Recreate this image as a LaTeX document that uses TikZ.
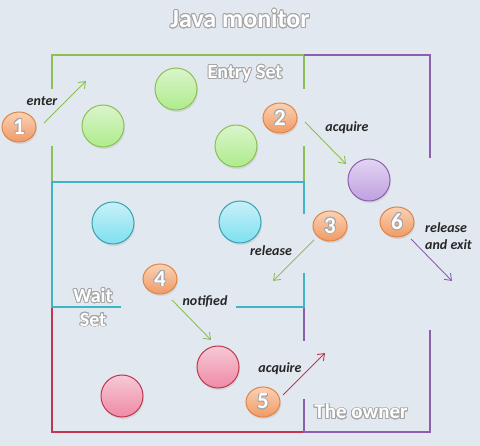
\documentclass[tikz,border=0pt]{standalone}
\usepackage{fontspec}
\setmainfont{Carlito}
\usepackage{xcolor}
\usepackage{contour}
\contourlength{0.8pt}
\contournumber{24}
\usetikzlibrary{shapes.geometric,arrows.meta,shadows}

\definecolor{bgcol}{HTML}{E2E8F0}
\definecolor{entrycol}{HTML}{8DC054}
\definecolor{waitcol}{HTML}{3DB5C4}
\definecolor{ownercol}{HTML}{8C5FAE}
\definecolor{redcol}{HTML}{C0374F}
\definecolor{greentop}{HTML}{DAF4CC}
\definecolor{greenbot}{HTML}{AEEC8C}
\definecolor{cyantop}{HTML}{C8F0F8}
\definecolor{cyanbot}{HTML}{7EE0F0}
\definecolor{redtop}{HTML}{F4CAD6}
\definecolor{redbot}{HTML}{F08AA6}
\definecolor{purptop}{HTML}{E2D4F2}
\definecolor{purpbot}{HTML}{BFA0E0}
\definecolor{badgetop}{HTML}{FAD2B6}
\definecolor{badgebot}{HTML}{F09A66}
\definecolor{badgecol}{HTML}{E08444}

\newcommand{\halotext}[1]{\contour{black!35}{\textcolor{white}{#1}}}

\tikzset{
  ball/.style={circle, minimum size=42pt, inner sep=0pt, line width=1pt,
    drop shadow={opacity=0.18, shadow xshift=1pt, shadow yshift=-2pt}},
  greenball/.style={ball, draw=entrycol, top color=greentop, bottom color=greenbot},
  cyanball/.style={ball, draw=waitcol!90!black, top color=cyantop, bottom color=cyanbot},
  redball/.style={ball, draw=redcol, top color=redtop, bottom color=redbot},
  purpleball/.style={ball, draw=ownercol, top color=purptop, bottom color=purpbot},
  badge/.style={ellipse, minimum width=34pt, minimum height=30pt, inner sep=0pt, draw=badgecol, line width=1pt,
    top color=badgetop, bottom color=badgebot,
    drop shadow={opacity=0.18, shadow xshift=1pt, shadow yshift=-2pt},
    font=\bfseries\fontsize{23}{23}\selectfont},
  wall/.style={line width=2.2pt},
  arr/.style={-{Straight Barb[length=6pt,width=9pt]}, line width=0.9pt},
  lbl/.style={font=\bfseries\itshape\fontsize{14}{17}\selectfont, text=black!85, inner sep=0pt},
  title/.style={font=\bfseries\fontsize{20}{22}\selectfont, inner sep=0pt}
}

\begin{document}
\begin{tikzpicture}[x=1pt,y=-1pt]
  \fill [bgcol] (0,0) rectangle (480,446);
  \useasboundingbox (0,0) rectangle (480,446);

  % walls of the monitor
  \draw [wall, entrycol] (52,89) -- (52,55) -- (304,55) -- (304,89);
  \draw [wall, entrycol] (52,146) -- (52,181);
  \draw [wall, entrycol] (304,146) -- (304,181);
  \draw [wall, waitcol] (304,214) -- (304,182) -- (52,182) -- (52,307) -- (121,307);
  \draw [wall, waitcol] (236,307) -- (304,307) -- (304,273);
  \draw [wall, redcol] (52,308) -- (52,432) -- (304,432);
  \draw [wall, ownercol] (304,55) -- (430,55) -- (430,158);
  \draw [wall, ownercol] (304,308) -- (304,341);
  \draw [wall, ownercol] (304,399) -- (304,432) -- (430,432) -- (430,330);

  % titles
  \node [font=\bfseries\fontsize{26}{28}\selectfont, inner sep=0pt] (head) at (240,19) {\halotext{Java monitor}};
  \node [title] (entry) at (245,74) {\halotext{Entry Set}};
  \node [title] (wait) at (93,296) {\halotext{Wait}};
  \node [title] (set) at (93,320) {\halotext{Set}};
  \node [title, font=\bfseries\fontsize{21}{23}\selectfont] (owner) at (361,412) {\halotext{The owner}};

  % threads
  \node [greenball] (g1) at (176,89) {};
  \node [greenball] (g2) at (103,126) {};
  \node [greenball] (g3) at (236,146) {};
  \node [purpleball] (p1) at (369,180) {};
  \node [cyanball] (c1) at (113,223) {};
  \node [cyanball] (c2) at (240,222) {};
  \node [redball] (r1) at (218,367) {};
  \node [redball] (r2) at (122,396) {};

  % steps
  \node [badge] (n1) at (19,127) {\halotext{1}};
  \node [badge] (n2) at (280,118) {\halotext{2}};
  \node [badge] (n3) at (330,226) {\halotext{3}};
  \node [badge] (n4) at (160,279) {\halotext{4}};
  \node [badge] (n5) at (263,402) {\halotext{5}};
  \node [badge] (n6) at (397,222) {\halotext{6}};

  \coordinate (enterA) at (44,123);   \coordinate (enterB) at (86,81);
  \coordinate (acqA) at (305,122);    \coordinate (acqB) at (346,164);
  \coordinate (relA) at (314,240);    \coordinate (relB) at (273,281);
  \coordinate (exitA) at (411,239);   \coordinate (exitB) at (452,281);
  \coordinate (notA) at (172,300);    \coordinate (notB) at (211,340);
  \coordinate (reacqA) at (283,395);  \coordinate (reacqB) at (325,353);

  \draw [arr, entrycol] (enterA) -- (enterB);
  \draw [arr, entrycol] (acqA) -- (acqB);
  \draw [arr, entrycol] (relA) -- (relB);
  \draw [arr, ownercol] (exitA) -- (exitB);
  \draw [arr, entrycol] (notA) -- (notB);
  \draw [arr, redcol] (reacqA) -- (reacqB);

  \node [lbl] (lenter) at (42,101) {enter};
  \node [lbl] (lacq) at (347,128) {acquire};
  \node [lbl] (lrel) at (271,251) {release};
  \node [lbl, align=left, anchor=west] (lexit) at (425,236) {release\\and exit};
  \node [lbl] (lnot) at (205,301) {notified};
  \node [lbl] (lreacq) at (280,369) {acquire};
\end{tikzpicture}
\end{document}
